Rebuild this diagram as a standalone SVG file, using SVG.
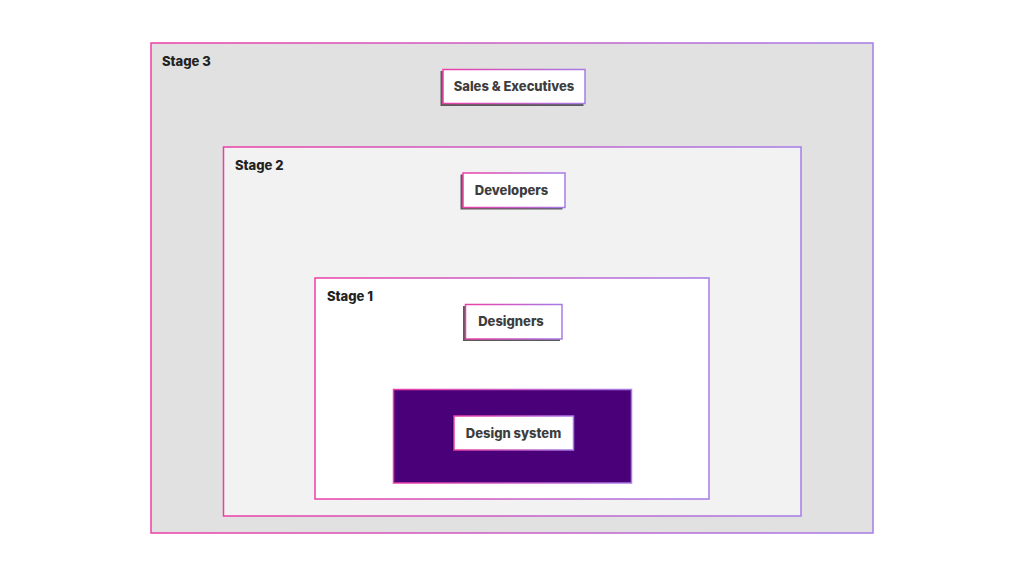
<svg xmlns="http://www.w3.org/2000/svg" width="1024" height="576" viewBox="0 0 1024 576">
<defs>
<linearGradient id="g" x1="0" y1="0" x2="1" y2="0">
<stop offset="0" stop-color="#ec3fa6"/>
<stop offset="1" stop-color="#a67be6"/>
</linearGradient>
<style>
.frame{stroke:url(#g);stroke-width:1.5}
.shadow{fill:#5a5a5a}
.card{fill:#fff;stroke:url(#g);stroke-width:1.5}
.stage{font-family:Inter,"Noto Sans",sans-serif;font-weight:800;font-size:13px;fill:#222}
.lbl{font-family:Inter,"Noto Sans",sans-serif;font-weight:800;font-size:13px;fill:#3d3d3d;text-anchor:middle}
</style>
</defs>
<rect width="1024" height="576" fill="#fff"/>
<g id="stage3">
<rect class="frame" x="151" y="43" width="722" height="490" fill="#e1e1e1"/>
<text class="stage" x="162" y="66">Stage 3</text>
</g>
<g id="stage2">
<rect class="frame" x="223.5" y="147" width="577.5" height="369" fill="#f2f2f2"/>
<text class="stage" x="235" y="170">Stage 2</text>
</g>
<g id="stage1">
<rect class="frame" x="315" y="278" width="394" height="221" fill="#fff"/>
<text class="stage" x="327" y="301">Stage 1</text>
</g>
<g id="sales">
<rect class="shadow" x="440.5" y="71" width="143" height="35"/>
<rect class="card" x="443" y="69.5" width="142" height="34"/>
<text class="lbl" x="514" y="91">Sales &amp; Executives</text>
</g>
<g id="developers">
<rect class="shadow" x="460.5" y="174.5" width="102" height="35"/>
<rect class="card" x="463" y="173" width="102" height="34.5"/>
<text class="lbl" x="511.5" y="194.5">Developers</text>
</g>
<g id="designers">
<rect class="shadow" x="463" y="306" width="97" height="35"/>
<rect class="card" x="465.5" y="304.5" width="96.5" height="34.5"/>
<text class="lbl" x="511" y="326">Designers</text>
</g>
<g id="design-system">
<rect class="frame" x="393.5" y="389.5" width="238" height="93.5" fill="#4a0078"/>
<rect x="452" y="417" width="121" height="34" fill="#3a0060"/>
<rect class="card" x="454" y="416" width="119.5" height="34"/>
<text class="lbl" x="513.5" y="437.5">Design system</text>
</g>
<g id="connectors"/>
</svg>
